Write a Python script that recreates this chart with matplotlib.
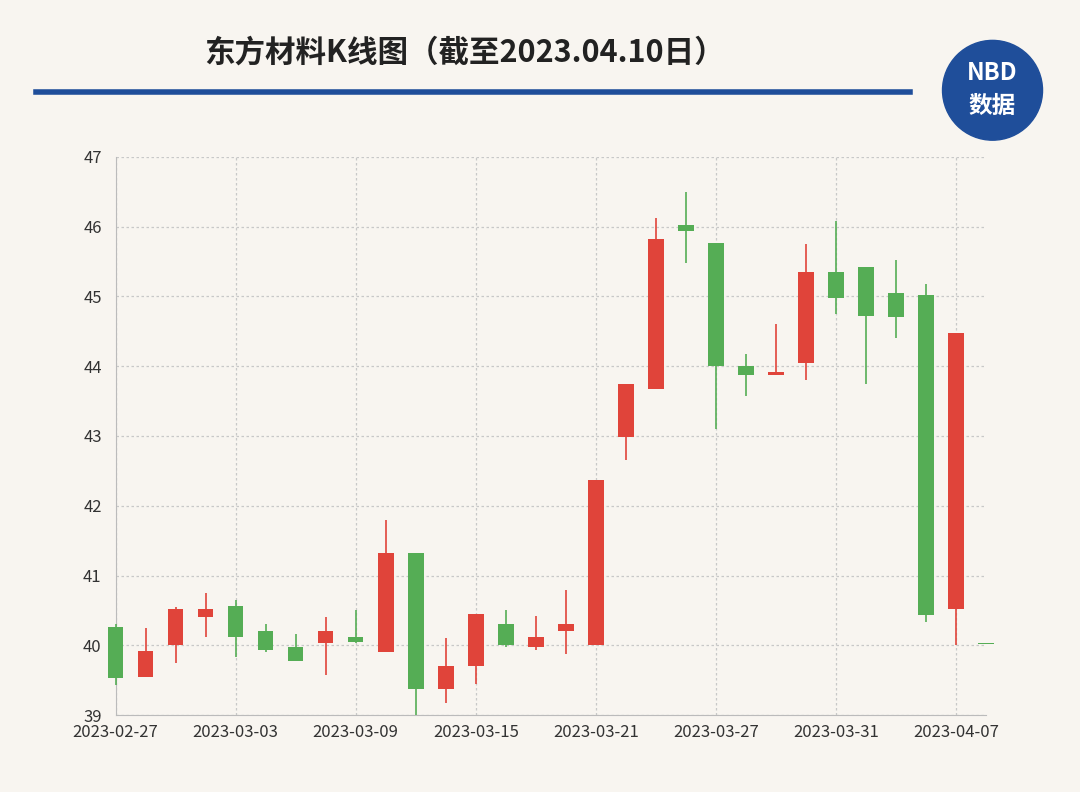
import matplotlib.pyplot as plt
from matplotlib.patches import Ellipse

plt.rcParams['font.family'] = ['Noto Sans CJK SC', 'DejaVu Sans']

dates = ["2023-02-27", "2023-02-28", "2023-03-01", "2023-03-02", "2023-03-03",
         "2023-03-06", "2023-03-07", "2023-03-08", "2023-03-09", "2023-03-10",
         "2023-03-13", "2023-03-14", "2023-03-15", "2023-03-16", "2023-03-17",
         "2023-03-20", "2023-03-21", "2023-03-22", "2023-03-23", "2023-03-24",
         "2023-03-27", "2023-03-28", "2023-03-29", "2023-03-30", "2023-03-31",
         "2023-04-03", "2023-04-04", "2023-04-06", "2023-04-07", "2023-04-10"]
opens = [40.27, 39.55, 40.00, 40.40, 40.57, 40.20, 39.97, 40.03, 40.12, 39.90,
         41.32, 39.37, 39.70, 40.30, 39.97, 40.20, 40.00, 42.98, 43.68, 46.02,
         45.77, 44.00, 43.88, 44.05, 45.35, 45.42, 45.05, 45.02, 40.52, 40.02]
closes = [39.53, 39.92, 40.52, 40.52, 40.12, 39.93, 39.78, 40.20, 40.05, 41.32,
          39.37, 39.70, 40.45, 40.00, 40.12, 40.30, 42.37, 43.75, 45.82, 45.93,
          44.00, 43.88, 43.92, 45.35, 44.97, 44.72, 44.70, 40.43, 44.48, 40.02]
highs = [40.30, 40.25, 40.55, 40.75, 40.65, 40.30, 40.17, 40.40, 40.50, 41.80,
         41.32, 40.10, 40.45, 40.50, 40.42, 40.80, 42.37, 43.75, 46.12, 46.50,
         45.77, 44.18, 44.60, 45.75, 46.08, 45.42, 45.52, 45.18, 44.48, 40.02]
lows = [39.43, 39.55, 39.75, 40.12, 39.83, 39.90, 39.77, 39.57, 40.03, 39.90,
        39.00, 39.17, 39.45, 39.98, 39.93, 39.88, 40.00, 42.65, 43.68, 45.48,
        43.10, 43.58, 43.88, 43.80, 44.75, 43.75, 44.40, 40.33, 40.00, 40.02]

RED = "#e0443a"
GREEN = "#55ad55"
BG = "#f8f5f0"

fig = plt.figure(figsize=(10.8, 7.92), dpi=100, facecolor=BG)
ax = fig.add_axes([0.107, 0.097, 0.806, 0.705], facecolor=BG)

for i in range(len(dates)):
    o, c = opens[i], closes[i]
    col = RED if c > o else GREEN
    ax.vlines(i, lows[i], highs[i], color=col, lw=1.2, clip_on=False, zorder=3)
    h = max(abs(c - o), 0.02)
    ax.bar(i, h, bottom=min(o, c), width=0.52, color=col, clip_on=False, zorder=3)

ticks = list(range(0, len(dates), 4))
ax.set_xticks(ticks)
ax.set_xticklabels([dates[t] for t in ticks], fontsize=12, color="#333333")
ax.set_xlim(0, 29)
ax.set_ylim(39, 47)
ax.set_yticks(range(39, 48))
ax.tick_params(axis='y', labelsize=12, colors="#333333", length=0, pad=10)
ax.tick_params(axis='x', length=0, pad=6)
ax.grid(True, linestyle=(0, (2, 2)), color="#c8c8c8", lw=0.9)
for s in ["top", "right"]:
    ax.spines[s].set_visible(False)
for s in ["left", "bottom"]:
    ax.spines[s].set_color("#bbbbbb")

fig.text(0.43, 0.934, "东方材料K线图（截至2023.04.10日）", ha="center", va="center",
         fontsize=22, fontweight="bold", color="#222222")
fig.add_artist(plt.Line2D([0.033, 0.843], [0.884, 0.884], color="#1f4e9a", lw=4))

logo = Ellipse((0.919, 0.886), 0.0926, 0.126, transform=fig.transFigure, color="#1f4e9a")
fig.add_artist(logo)
fig.text(0.919, 0.908, "NBD", ha="center", va="center", fontsize=17, fontweight="bold", color="white")
fig.text(0.919, 0.866, "数据", ha="center", va="center", fontsize=17, fontweight="bold", color="white")

fig.savefig("out.png", dpi=100, facecolor=BG)
